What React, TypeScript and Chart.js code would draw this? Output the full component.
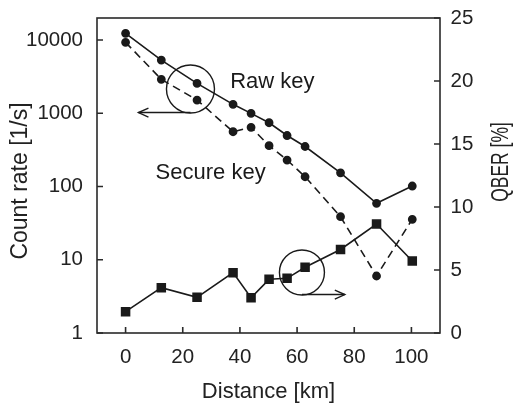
import React, { useEffect, useRef } from 'react';
import { Chart, registerables } from 'chart.js';

Chart.register(...registerables);

// ---- data ----
const distances = [0, 12.5, 25, 37.6, 43.9, 50.2, 56.5, 62.8, 75.2, 87.8, 100.3];
const rawKey = [12340, 5330, 2565, 1325, 998, 743, 497, 352, 154, 59, 101.6];
const secureKey = [9310, 2905, 1517, 560, 643, 361, 230, 136, 38.7, 6.0, 35.7];
const qber = [1.69, 3.6, 2.83, 4.79, 2.8, 4.26, 4.34, 5.22, 6.63, 8.65, 5.71];

const xTicks = [0, 20, 40, 60, 80, 100];
const countTicks = [1, 10, 100, 1000, 10000];
const qberTicks = [0, 5, 10, 15, 20, 25];

// annotation anchors (data coordinates)
const circleX = [22.7, 61.7];
const circleY = [2143, 4.8];
const circleAxis = ['y', 'y1'];
const circleR = [24, 22.5];
const arrowToX = [4.5, 76.7];
const labelText = ['Raw key', 'Secure key'];
const labelX = [36.6, 10.5];
const labelY = [2213, 126];

const FONT = '"Liberation Sans", Arial, sans-serif';
const INK = '#1a1a1a';

function arrowHead(ctx: CanvasRenderingContext2D, x: number, y: number, dir: number) {
  ctx.beginPath();
  ctx.moveTo(x - dir * 10, y - 4.5);
  ctx.lineTo(x, y);
  ctx.lineTo(x - dir * 10, y + 4.5);
  ctx.stroke();
}

const decor = {
  id: 'decor',
  afterDatasetsDraw(chart: any) {
    const { ctx, scales } = chart;
    ctx.save();
    ctx.strokeStyle = INK;
    ctx.fillStyle = INK;
    ctx.lineWidth = 1.4;
    for (let i = 0; i < circleX.length; i++) {
      const cx = scales.x.getPixelForValue(circleX[i]);
      const cy = scales[circleAxis[i]].getPixelForValue(circleY[i]);
      const r = circleR[i];
      ctx.beginPath();
      ctx.arc(cx, cy, r, 0, Math.PI * 2);
      ctx.stroke();
      const ay = cy + r - 0.5;
      const ax = scales.x.getPixelForValue(arrowToX[i]);
      ctx.beginPath();
      ctx.moveTo(cx, ay);
      ctx.lineTo(ax, ay);
      ctx.stroke();
      arrowHead(ctx, ax, ay, ax < cx ? -1 : 1);
    }
    ctx.font = `22px ${FONT}`;
    ctx.textAlign = 'left';
    ctx.textBaseline = 'alphabetic';
    for (let i = 0; i < labelText.length; i++) {
      ctx.fillText(labelText[i], scales.x.getPixelForValue(labelX[i]), scales.y.getPixelForValue(labelY[i]));
    }
    ctx.restore();
  },
  afterDraw(chart: any) {
    const { ctx, chartArea: a, scales } = chart;
    ctx.save();
    ctx.strokeStyle = '#2a2a2a';
    ctx.lineWidth = 1.6;
    ctx.strokeRect(a.left, a.top, a.right - a.left, a.bottom - a.top);
    const tl = 6;
    ctx.beginPath();
    xTicks.forEach((v) => {
      const p = scales.x.getPixelForValue(v);
      ctx.moveTo(p, a.bottom);
      ctx.lineTo(p, a.bottom - tl);
    });
    countTicks.forEach((v) => {
      const p = scales.y.getPixelForValue(v);
      ctx.moveTo(a.left, p);
      ctx.lineTo(a.left + tl, p);
    });
    qberTicks.forEach((v) => {
      const p = scales.y1.getPixelForValue(v);
      ctx.moveTo(a.right, p);
      ctx.lineTo(a.right - tl, p);
    });
    ctx.stroke();

    // axis titles
    ctx.fillStyle = '#222';
    ctx.textAlign = 'center';
    ctx.textBaseline = 'alphabetic';
    ctx.font = `22px ${FONT}`;
    ctx.fillText('Distance [km]', (a.left + a.right) / 2, 398);

    ctx.save();
    ctx.font = `23px ${FONT}`;
    ctx.translate(27, 181);
    ctx.rotate(-Math.PI / 2);
    ctx.fillText('Count rate [1/s]', 0, 0);
    ctx.restore();

    ctx.save();
    ctx.font = `23px ${FONT}`;
    ctx.translate(508, 162);
    ctx.rotate(-Math.PI / 2);
    ctx.scale(0.76, 1);
    ctx.fillText('QBER [%]', 0, 0);
    ctx.restore();

    ctx.restore();
  },
};

export default function App() {
  const ref = useRef<HTMLCanvasElement | null>(null);

  useEffect(() => {
    if (!ref.current) return;
    const tickFont = { family: FONT, size: 20.5 };
    const noPad = (s: any) => {
      s.paddingTop = 0;
      s.paddingBottom = 0;
      s.paddingLeft = 0;
      s.paddingRight = 0;
    };
    const chart = new Chart(ref.current, {
      type: 'line',
      data: {
        datasets: [
          {
            label: 'Raw key',
            data: distances.map((d, i) => ({ x: d, y: rawKey[i] })),
            yAxisID: 'y',
            borderColor: INK,
            backgroundColor: INK,
            borderWidth: 1.6,
            pointRadius: 3.6,
            pointStyle: 'circle',
            tension: 0,
          },
          {
            label: 'Secure key',
            data: distances.map((d, i) => ({ x: d, y: secureKey[i] })),
            yAxisID: 'y',
            borderColor: INK,
            backgroundColor: INK,
            borderWidth: 1.6,
            borderDash: [8, 5],
            pointRadius: 3.6,
            pointStyle: 'circle',
            tension: 0,
          },
          {
            label: 'QBER',
            data: distances.map((d, i) => ({ x: d, y: qber[i] })),
            yAxisID: 'y1',
            borderColor: INK,
            backgroundColor: INK,
            borderWidth: 1.6,
            pointRadius: 5.6,
            pointStyle: 'rect',
            tension: 0,
          },
        ],
      },
      options: {
        animation: false,
        responsive: false,
        devicePixelRatio: 1,
        layout: { padding: { top: 18, left: 0, right: 0, bottom: 0 } },
        plugins: { legend: { display: false }, tooltip: { enabled: false } },
        scales: {
          x: {
            type: 'linear',
            min: -10,
            max: 110,
            afterBuildTicks: (s: any) => {
              s.ticks = xTicks.map((v) => ({ value: v }));
            },
            afterFit: (s: any) => {
              s.height = 73;
              noPad(s);
            },
            grid: { display: false, drawTicks: false },
            border: { display: false },
            ticks: { font: tickFont, color: '#222', padding: 12.5, maxRotation: 0, autoSkip: false, callback: (v: any) => String(v) },
          },
          y: {
            type: 'logarithmic',
            position: 'left',
            min: 1,
            max: 20000,
            afterBuildTicks: (s: any) => {
              s.ticks = countTicks.map((v) => ({ value: v }));
            },
            afterFit: (s: any) => {
              s.width = 97;
              noPad(s);
            },
            grid: { display: false, drawTicks: false },
            border: { display: false },
            ticks: { font: tickFont, color: '#222', padding: 14, autoSkip: false, callback: (v: any) => String(v) },
          },
          y1: {
            type: 'linear',
            position: 'right',
            min: 0,
            max: 25,
            afterBuildTicks: (s: any) => {
              s.ticks = qberTicks.map((v) => ({ value: v }));
            },
            afterFit: (s: any) => {
              s.width = 73;
              noPad(s);
            },
            grid: { display: false, drawTicks: false },
            border: { display: false },
            ticks: { font: tickFont, color: '#222', padding: 10.5, autoSkip: false, callback: (v: any) => String(v) },
          },
        },
      },
      plugins: [decor],
    });
    return () => chart.destroy();
  }, []);

  return (
    <div style={{ position: 'fixed', left: 0, top: 0, width: 513, height: 406, background: '#fff' }}>
      <canvas ref={ref} width={513} height={406} style={{ width: 513, height: 406, display: 'block' }} />
    </div>
  );
}
